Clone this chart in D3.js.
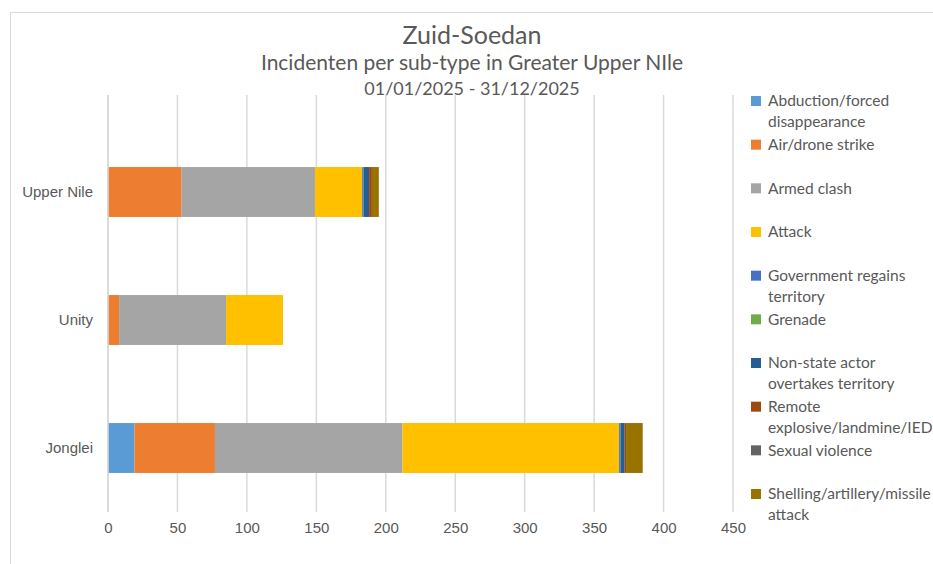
<!DOCTYPE html>
<html>
<head>
<meta charset="utf-8">
<script src="https://cdn.jsdelivr.net/npm/d3@7"></script>
<style>
  body { margin: 0; background: #fff; }
  svg { font-family: Lato, "Open Sans", sans-serif; }
</style>
</head>
<body>
<div id="chart"></div>
<script>
// Data
const regions = ["Upper Nile", "Unity", "Jonglei"];
const subTypes = [
  "Abduction/forced disappearance",
  "Air/drone strike",
  "Armed clash",
  "Attack",
  "Government regains territory",
  "Grenade",
  "Non-state actor overtakes territory",
  "Remote explosive/landmine/IED",
  "Sexual violence",
  "Shelling/artillery/missile attack"
];
const upperNile = [0, 53, 96, 34, 1, 0, 4, 2, 0, 5];
const unity = [0, 8, 77, 41, 0, 0, 0, 0, 0, 0];
const jonglei = [19, 58, 135, 156, 1, 0, 3, 1, 0, 12];
const xTicks = [0, 50, 100, 150, 200, 250, 300, 350, 400, 450];
const colors = ["#5B9BD5", "#ED7D31", "#A5A5A5", "#FFC000", "#4472C4",
                "#70AD47", "#255E91", "#9E480E", "#636363", "#997300"];
const titleLines = ["Zuid-Soedan", "Incidenten per sub-type in Greater Upper NIle", "01/01/2025 - 31/12/2025"];

const width = 933, height = 564;
const margins = { top: 128, right: 200, bottom: 52, left: 108 };

const valuesByRegion = { "Upper Nile": upperNile, "Unity": unity, "Jonglei": jonglei };
const rows = regions.map(r => {
  const o = { region: r };
  subTypes.forEach((s, i) => o[s] = valuesByRegion[r][i]);
  return o;
});
const series = d3.stack().keys(subTypes)(rows);

const x = d3.scaleLinear().domain([0, 450]).range([margins.left, 733]);
const y = d3.scaleBand().domain(regions)
  .range([margins.top, height - margins.bottom])
  .paddingInner(0.61).paddingOuter(0.305);
const color = d3.scaleOrdinal().domain(subTypes).range(colors);

const svg = d3.select("#chart").append("svg")
  .attr("width", width).attr("height", height)
  .attr("viewBox", [0, 0, width, height]);

// chart frame
svg.append("rect")
  .attr("x", 10.5).attr("y", 12.5)
  .attr("width", width).attr("height", height)
  .attr("fill", "#fff").attr("stroke", "#d9d9d9");

// titles
svg.append("g").selectAll("text")
  .data(titleLines)
  .join("text")
  .attr("x", 472)
  .attr("y", (d, i) => [44, 70, 95][i])
  .attr("text-anchor", "middle")
  .attr("fill", "#595959")
  .style("font-size", (d, i) => ["25px", "21px", "18px"][i])
  .text(d => d);

// gridlines
svg.append("g")
  .selectAll("line")
  .data(xTicks)
  .join("line")
  .attr("x1", d => x(d)).attr("x2", d => x(d))
  .attr("y1", 95).attr("y2", height - margins.bottom)
  .attr("stroke", "#d9d9d9").attr("stroke-width", 1.5);

// bars
svg.append("g")
  .selectAll("g")
  .data(series)
  .join("g")
  .attr("fill", d => color(d.key))
  .selectAll("rect")
  .data(d => d)
  .join("rect")
  .attr("x", d => x(d[0]))
  .attr("y", d => y(d.data.region))
  .attr("width", d => x(d[1]) - x(d[0]))
  .attr("height", y.bandwidth());

// x axis labels
svg.append("g")
  .attr("transform", `translate(0,${height - margins.bottom})`)
  .call(d3.axisBottom(x).tickValues(xTicks).tickSize(0).tickPadding(10))
  .call(g => g.select(".domain").remove())
  .selectAll("text")
  .attr("fill", "#595959")
  .style("font-size", "15px");

// y axis labels
svg.append("g")
  .attr("transform", `translate(${margins.left},0)`)
  .call(d3.axisLeft(y).tickSize(0).tickPadding(15))
  .call(g => g.select(".domain").attr("stroke", "#d9d9d9").attr("stroke-width", 1.5)
    .attr("d", `M0,95V${height - margins.bottom}`))
  .selectAll("text")
  .attr("fill", "#595959")
  .style("font-size", "15px");

// legend
const ly = d3.scaleLinear().domain([0, subTypes.length - 1]).range([101, 494]);
const legend = svg.append("g").style("font-size", "15.5px").attr("fill", "#595959");
const item = legend.selectAll("g")
  .data(subTypes)
  .join("g")
  .attr("transform", (d, i) => `translate(751,${ly(i)})`);
item.append("rect")
  .attr("x", 0).attr("y", -5)
  .attr("width", 10).attr("height", 10)
  .attr("fill", d => color(d));
item.append("text")
  .each(function(d) {
    const t = d3.select(this);
    const words = d.split(" ");
    let line = [];
    let tspan = t.append("tspan").attr("x", 17).attr("dy", "0.35em");
    words.forEach(w => {
      line.push(w);
      tspan.text(line.join(" "));
      if (tspan.node().getComputedTextLength() > 160 && line.length > 1) {
        line.pop();
        tspan.text(line.join(" "));
        line = [w];
        tspan = t.append("tspan").attr("x", 17).attr("dy", "21px").text(w);
      }
    });
  });
</script>
</body>
</html>
